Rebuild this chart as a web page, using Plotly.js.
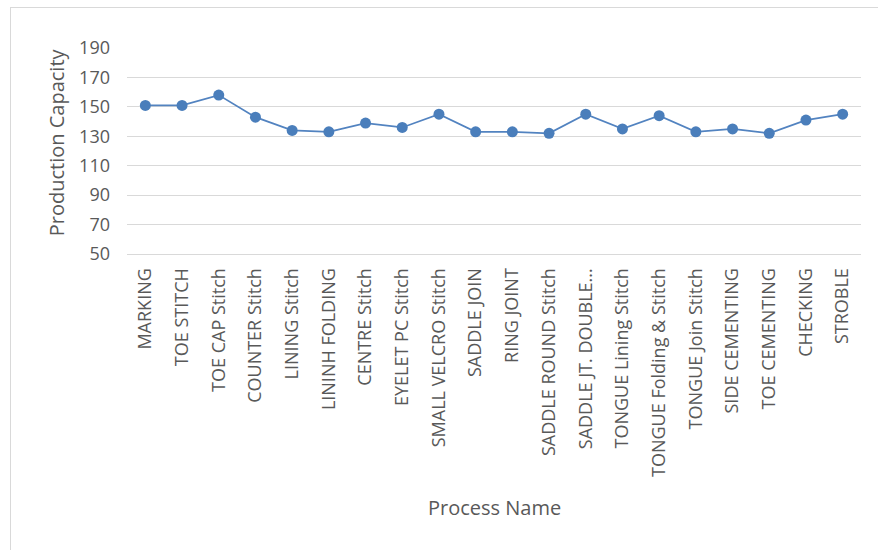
<!DOCTYPE html>
<html>
<head>
<meta charset="utf-8">
<script src="https://cdn.plot.ly/plotly-3.0.1.min.js"></script>
<style>
  html, body { margin: 0; padding: 0; background: #ffffff; }
  #wrap { position: relative; width: 878px; height: 550px; overflow: hidden; }
  #frame { position: absolute; left: 10px; top: 7px; width: 880px; height: 560px;
           border-left: 1px solid #d9d9d9; border-top: 1px solid #d9d9d9; pointer-events: none; }
  #chart { position: absolute; left: 0; top: 0; width: 878px; height: 550px; }
</style>
</head>
<body>
<div id="wrap">
  <div id="chart"></div>
  <div id="frame"></div>
</div>
<script>
// Process steps along the line
const processNames = [
  "MARKING", "TOE STITCH", "TOE CAP Stitch", "COUNTER Stitch", "LINING Stitch",
  "LININH FOLDING", "CENTRE Stitch", "EYELET PC Stitch", "SMALL VELCRO Stitch", "SADDLE JOIN",
  "RING JOINT", "SADDLE ROUND Stitch", "SADDLE JT. DOUBLE...", "TONGUE Lining Stitch", "TONGUE Folding & Stitch",
  "TONGUE Join Stitch", "SIDE CEMENTING", "TOE CEMENTING", "CHECKING", "STROBLE"
];

// Production capacity per process
const productionCapacity = [
  151, 151, 158, 143, 134,
  133, 139, 136, 145, 133,
  133, 132, 145, 135, 144,
  133, 135, 132, 141, 145
];

// Value axis ticks
const yTickValues = [50, 70, 90, 110, 130, 150, 170, 190];

const textColor = "#595959";
const fontFamily = "'Open Sans', 'Liberation Sans', sans-serif";

const trace = {
  type: "scatter",
  mode: "lines+markers",
  x: processNames,
  y: productionCapacity,
  line: { color: "#5283c0", width: 1.75 },
  marker: { color: "#4a7ebb", size: 11 },
  cliponaxis: false,
  hoverinfo: "x+y"
};

const layout = {
  width: 878,
  height: 550,
  margin: { l: 127, r: 17, t: 47.5, b: 295.7 },
  paper_bgcolor: "#ffffff",
  plot_bgcolor: "#ffffff",
  showlegend: false,
  font: { family: fontFamily, color: textColor, size: 18 },
  xaxis: {
    type: "category",
    range: [-0.5, processNames.length - 0.5],
    tickangle: -90,
    showgrid: false,
    zeroline: false,
    showline: true,
    linecolor: "#d9d9d9",
    linewidth: 1,
    ticks: "",
    ticklabelstandoff: 6,
    tickfont: { family: fontFamily, color: textColor, size: 18 },
    automargin: false
  },
  yaxis: {
    range: [50, 190],
    tickvals: yTickValues,
    showgrid: true,
    gridcolor: "#d9d9d9",
    gridwidth: 1,
    zeroline: false,
    showline: false,
    ticks: "",
    ticklabelstandoff: 16,
    tickfont: { family: fontFamily, color: textColor, size: 18 },
    automargin: false
  },
  annotations: [
    {
      text: "Process Name",
      xref: "paper", yref: "paper",
      x: 0.5, y: -1.23,
      xanchor: "center", yanchor: "middle",
      showarrow: false,
      font: { family: fontFamily, color: textColor, size: 20 }
    },
    {
      text: "Production Capacity",
      xref: "paper", yref: "paper",
      x: -0.096, y: 0.54,
      xanchor: "center", yanchor: "middle",
      textangle: -90,
      showarrow: false,
      font: { family: fontFamily, color: textColor, size: 20 }
    }
  ]
};

Plotly.newPlot("chart", [trace], layout, { displayModeBar: false, staticPlot: true });
</script>
</body>
</html>
